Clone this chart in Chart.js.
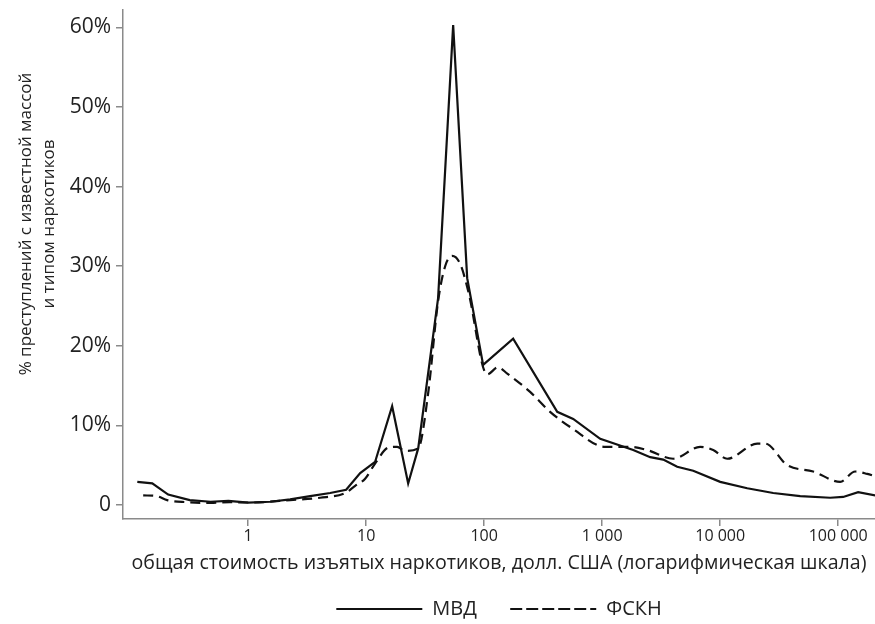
<!DOCTYPE html>
<html>
<head>
<meta charset="utf-8">
<script src="https://cdn.jsdelivr.net/npm/chart.js@4"></script>
<style>
  html, body { margin: 0; padding: 0; background: #fff; }
  #wrap { width: 875px; height: 624px; }
</style>
</head>
<body>
<div id="wrap"><canvas id="chart"></canvas></div>
<script>
// total value of seized drugs, USD (log scale)
const mvdX = [0.115, 0.154, 0.21, 0.32, 0.48, 0.68, 1.0, 1.54, 2.27, 3.35, 4.95, 6.77, 8.9, 11.9, 16.6, 22.7, 27.6, 40.7, 54.6, 71.8, 98, 176, 416, 568, 962, 1832, 2553, 3290, 4322, 5908, 10000, 16943, 28130, 47640, 85500, 110200, 147600, 206000]
const mvdY = [2.9, 2.7, 1.3, 0.6, 0.4, 0.5, 0.3, 0.4, 0.7, 1.1, 1.5, 1.9, 4.0, 5.4, 12.4, 2.7, 7.1, 26, 60.3, 28.5, 17.6, 20.9, 11.7, 10.8, 8.3, 6.9, 6.0, 5.7, 4.8, 4.3, 2.9, 2.1, 1.5, 1.1, 0.9, 1.0, 1.6, 1.2]

const fskhX = [0.129, 0.169, 0.206, 0.30, 0.48, 0.70, 1.04, 2.27, 4.07, 6.64, 8.07, 9.8, 11.9, 15.4, 18.3, 21.4, 27.6, 33.5, 40.7, 46.7, 53.5, 62.6, 73.2, 106, 131, 157, 245, 362, 560, 1060, 1727, 2405, 4000, 6760, 8720, 11460, 20600, 24050, 36960, 61380, 104000, 139300, 176300, 206000]
const fskhY = [1.2, 1.1, 0.6, 0.35, 0.25, 0.35, 0.3, 0.6, 0.9, 1.5, 2.4, 3.3, 5.2, 7.2, 7.3, 6.8, 7.1, 14, 25.6, 30, 31.3, 30.3, 26.9, 16.4, 17.3, 16.5, 14.2, 11.7, 9.6, 7.3, 7.3, 6.9, 5.8, 7.3, 6.9, 5.8, 7.7, 7.7, 5.0, 4.2, 2.9, 4.2, 3.9, 3.6]

const xTickValues = [1, 10, 100, 1000, 10000, 100000]
const xTickLabels = ["1", "10", "100", "1 000", "10 000", "100 000"]
const yTickValues = [0, 10, 20, 30, 40, 50, 60]

const yTitle = ["% преступлений с известной массой", "и типом наркотиков"]
const xTitle = "общая стоимость изъятых наркотиков, долл. США (логарифмическая шкала)"

const FONT = "'Open Sans', 'DejaVu Sans', sans-serif"
const AXIS = "#8a8a8a"

const toPoints = (xs, ys) => xs.map((x, i) => ({ x: x, y: ys[i] }))

// y axis title drawn a bit above the axis centre, as in the source
const yTitlePlugin = {
  id: "yTitle",
  afterDraw(chart) {
    const ctx = chart.ctx
    ctx.save()
    ctx.fillStyle = "#222"
    ctx.font = "17px " + FONT
    ctx.textAlign = "center"
    ctx.textBaseline = "middle"
    ctx.translate(26, 224)
    ctx.rotate(-Math.PI / 2)
    yTitle.forEach((line, i) => ctx.fillText(line, 0, i * 23))
    ctx.restore()
  }
}

new Chart(document.getElementById("chart"), {
  type: "line",
  data: {
    datasets: [
      {
        label: "МВД\u2003\u2009",
        data: toPoints(mvdX, mvdY),
        borderColor: "#111",
        backgroundColor: "transparent",
        borderWidth: 2.2,
        pointRadius: 0,
        tension: 0
      },
      {
        label: "ФСКН",
        data: toPoints(fskhX, fskhY),
        borderColor: "#111",
        backgroundColor: "transparent",
        borderWidth: 2.2,
        borderDash: [10, 6],
        pointRadius: 0,
        cubicInterpolationMode: "monotone"
      }
    ]
  },
  options: {
    responsive: true,
    maintainAspectRatio: false,
    animation: false,
    events: [],
    layout: { padding: { top: 10, right: 0, bottom: -5, left: 0 } },
    plugins: {
      tooltip: { enabled: false },
      legend: {
        position: "bottom",
        fullSize: false,
        labels: {
          boxWidth: 86,
          boxHeight: 0,
          padding: 10,
          color: "#222",
          font: { family: FONT, size: 20 }
        }
      }
    },
    scales: {
      x: {
        type: "logarithmic",
        min: 0.087,
        max: 205000,
        afterFit: (scale) => { scale.height = 70 },
        afterBuildTicks: (scale) => { scale.ticks = xTickValues.map(v => ({ value: v })) },
        grid: { drawOnChartArea: false, drawTicks: true, tickLength: 7, color: AXIS, lineWidth: 1.5 },
        border: { display: true, color: AXIS, width: 1.5 },
        ticks: {
          autoSkip: false,
          maxRotation: 0,
          padding: 1,
          color: "#222",
          font: { family: FONT, size: 16 },
          callback: (v, i) => xTickLabels[i]
        },
        title: {
          display: true,
          text: xTitle,
          color: "#222",
          font: { family: FONT, size: 19.6 },
          padding: { top: 0, bottom: 14 }
        }
      },
      y: {
        min: -1.77,
        max: 62.2,
        afterFit: (scale) => {
          scale.width = 123
          scale.paddingTop = 0
          scale.paddingBottom = 0
        },
        afterBuildTicks: (scale) => { scale.ticks = yTickValues.map(v => ({ value: v })) },
        grid: { drawOnChartArea: false, drawTicks: true, tickLength: 7, color: AXIS, lineWidth: 1.5 },
        border: { display: true, color: AXIS, width: 1.5 },
        ticks: {
          padding: 5,
          color: "#222",
          font: { family: FONT, size: 21 },
          callback: (v) => v === 0 ? "0" : v + "%"
        }
      }
    }
  },
  plugins: [yTitlePlugin]
})
</script>
</body>
</html>
